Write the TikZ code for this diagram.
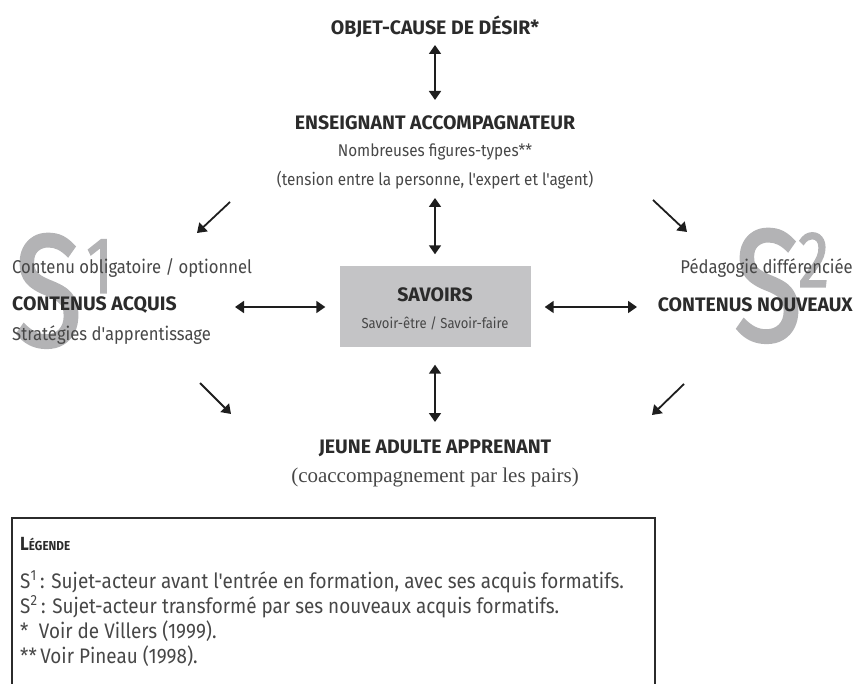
\documentclass[tikz,border=0pt]{standalone}
\usepackage{fontspec}
\setmainfont{Fira Sans}
\newfontfamily\subfam{Fira Sans}[FakeStretch=0.9]
\newfontfamily\bigfam{Fira Sans}[FakeStretch=0.78, FakeBold=1.5]
\newfontfamily\seriffam{Liberation Serif}
\usetikzlibrary{arrows.meta}
\definecolor{txt}{HTML}{2B2B2B}
\definecolor{txtl}{HTML}{474747}
\definecolor{bigS}{HTML}{B3B3B5}
\definecolor{boxg}{HTML}{C4C4C6}
\definecolor{arr}{HTML}{1E1E1E}
\tikzset{
  head/.style={inner sep=0pt, text=txt, font=\fontsize{19.5}{22}\selectfont\bfseries},
  sub/.style={inner sep=0pt, text=txtl, font=\subfam\fontsize{18.5}{21}\selectfont},
  subsm/.style={inner sep=0pt, text=txtl, font=\subfam\fontsize{17}{20}\selectfont},
  small/.style={inner sep=0pt, text=txtl, font=\subfam\fontsize{14.5}{17}\selectfont},
  serifsub/.style={inner sep=0pt, text=txtl, font=\seriffam\fontsize{21}{24}\selectfont},
  legtxt/.style={inner sep=0pt, text=txtl, font=\subfam\fontsize{21}{24}\selectfont, anchor=west},
  savbox/.style={fill=boxg, draw=none, minimum width=191pt, minimum height=81pt, inner sep=0pt},
  bigletter/.style={inner sep=0pt, text=bigS, font=\bigfam\fontsize{160}{160}\selectfont},
  bigdigit/.style={inner sep=0pt, text=bigS, font=\bigfam\fontsize{80}{80}\selectfont},
  dbl/.style={arr, line width=1.8pt, {Triangle[length=9pt,width=12pt]}-{Triangle[length=9pt,width=12pt]}},
  sgl/.style={arr, line width=1.8pt, -{Triangle[length=9pt,width=12pt]}},
  legline/.style={draw=txt, line width=1.3pt}
}
\begin{document}
\begin{tikzpicture}[x=1pt,y=-1pt]
\useasboundingbox (0,0) rectangle (854,684);
% big S1 / S2
\node[bigletter, anchor=base west] (S1) at (14,346) {S};
\node[bigdigit, anchor=base west] (S1n) at (86,293) {1};
\node[bigletter, anchor=base west] (S2) at (734,341) {S};
\node[bigdigit, anchor=base west] (S2n) at (798,287) {2};
% top
\node[head] (objet) at (435,27) {OBJET-CAUSE DE DÉSIR*};
\node[head] (ens) at (435,123) {ENSEIGNANT ACCOMPAGNATEUR};
\node[subsm] (fig) at (435,152) {Nombreuses figures-types**};
\node[subsm] (tens) at (435,180) {(tension entre la personne, l'expert et l'agent)};
% center box
\node[savbox] (sav) at (435,307) {};
\node[head] (savt) at (435,295) {SAVOIRS};
\node[small] (save) at (435,323) {Savoir-être / Savoir-faire};
% left
\node[sub, anchor=west] (oblig) at (12,268) {Contenu obligatoire / optionnel};
\node[head, anchor=west] (acquis) at (12,305) {CONTENUS ACQUIS};
\node[sub, anchor=west] (strat) at (12,335) {Stratégies d'apprentissage};
% right
\node[sub, anchor=east] (peda) at (853,268) {Pédagogie différenciée};
\node[head, anchor=east] (nouv) at (853,305) {CONTENUS NOUVEAUX};
% bottom
\node[head] (jeune) at (435,448) {JEUNE ADULTE APPRENANT};
\node[serifsub] (coacc) at (435,477) {(coaccompagnement par les pairs)};
% coordinates for free arrow ends
\coordinate (cL) at (235,307);
\coordinate (cR) at (637,307);
\coordinate (d1s) at (230,202); \coordinate (d1e) at (197,233);
\coordinate (d2s) at (653,200); \coordinate (d2e) at (687,232);
\coordinate (d3s) at (200,383); \coordinate (d3e) at (231,414);
\coordinate (d4s) at (684,384); \coordinate (d4e) at (652,415);
% arrows
\draw[dbl, shorten <=18pt, shorten >=23pt] (objet.center) -- (ens.center);
\draw[dbl, shorten <=18pt, shorten >=12pt] (tens.center) -- (sav.north);
\draw[dbl, shorten <=17pt, shorten >=26pt] (sav.south) -- (jeune.center);
\draw[dbl, shorten <=14pt] (sav.west) -- (cL);
\draw[dbl, shorten <=14pt] (sav.east) -- (cR);
\draw[sgl] (d1s) -- (d1e);
\draw[sgl] (d2s) -- (d2e);
\draw[sgl] (d3s) -- (d3e);
\draw[sgl] (d4s) -- (d4e);
% legend
\draw[legline] (12,686) -- (12,518) -- (655,518) -- (655,686);
\node[legtxt, text=txt] (leg0) at (20,544) {{\fontsize{19}{22}\selectfont\bfseries L}{\fontsize{13}{22}\selectfont\bfseries ÉGENDE}};
\node[legtxt] (leg1) at (20,582) {S\textsuperscript{1}\,: Sujet-acteur avant l'entrée en formation, avec ses acquis formatifs.};
\node[legtxt] (leg2) at (20,607) {S\textsuperscript{2}\,: Sujet-acteur transformé par ses nouveaux acquis formatifs.};
\node[legtxt] (leg3) at (20,631) {*\enspace Voir de Villers (1999).};
\node[legtxt] (leg4) at (20,656) {**\,Voir Pineau (1998).};
\end{tikzpicture}
\end{document}
